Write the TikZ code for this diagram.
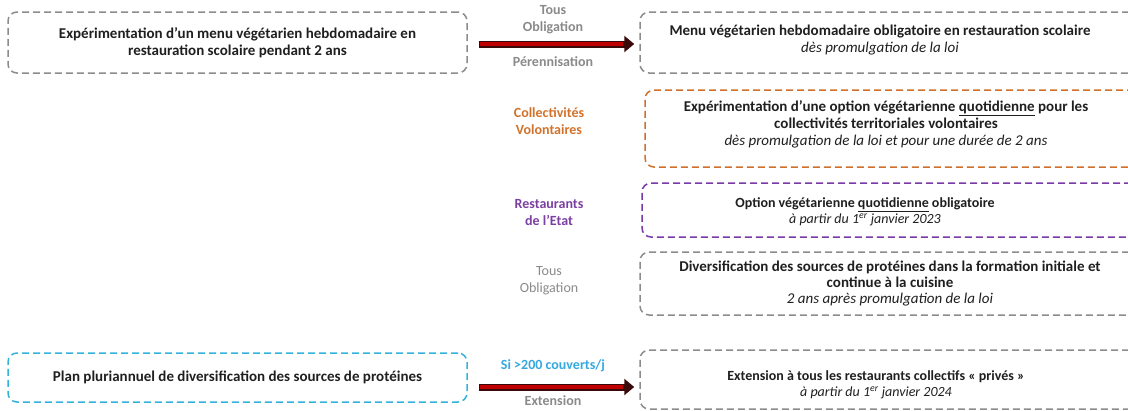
\documentclass[tikz,border=0pt]{standalone}
\usepackage{fontspec}
\setmainfont{Carlito}
\usetikzlibrary{positioning,arrows.meta}
\definecolor{greyline}{HTML}{8C8C8C}
\definecolor{greytext}{HTML}{8A8A8A}
\definecolor{orangeline}{HTML}{D0702E}
\definecolor{orangetext}{HTML}{D2722A}
\definecolor{purpleline}{HTML}{7A3AA6}
\definecolor{purpletext}{HTML}{7B3FA2}
\definecolor{cyanline}{HTML}{35B2DC}
\definecolor{cyantext}{HTML}{34A8DF}
\definecolor{arrowred}{HTML}{C00000}
\definecolor{arrowdark}{HTML}{3A0A0A}
\newcommand{\when}{\mdseries\itshape}
\tikzset{
  box/.style={draw=#1,dash pattern=on 7pt off 4pt,line width=1.5pt,
    rounded corners=9pt,inner sep=0pt},
  txt/.style={align=center,text=black!88,font=\bfseries\fontsize{15}{17}\selectfont},
  small/.style={font=\bfseries\fontsize{14}{16}\selectfont},
  tag/.style={align=center,text=#1,font=\bfseries\fontsize{14}{17}\selectfont},
  arrowout/.style={draw=arrowdark,line width=7pt,
    -{Triangle[length=10pt,width=16pt]},shorten <=11pt,shorten >=5pt},
  arrowin/.style={draw=arrowred,line width=4pt,shorten <=12.5pt,shorten >=16pt}
}

\begin{document}
\begin{tikzpicture}[x=1pt,y=-1pt]
\useasboundingbox (0,0) rectangle (1128,410);
\clip (0,0) rectangle (1128,410);
% left column
\node[box=greyline,minimum width=459pt,minimum height=61pt] (b1) at (237.5,42.5) {};
\node[txt] (t1) at (b1) {Expérimentation d’un menu végétarien hebdomadaire en\\restauration scolaire pendant 2 ans};
\node[box=cyanline,minimum width=459pt,minimum height=49pt] (b6) at (237.5,377.5) {};
\node[txt] (t6) at (b6) {Plan pluriannuel de diversification des sources de protéines};
% right column
\node[box=greyline,minimum width=520pt,minimum height=61pt] (b2) at (900,42.5) {};
\node[txt] (t2) at (880,40.5) {Menu végétarien hebdomadaire obligatoire en restauration scolaire\\\when dès promulgation de la loi};
\node[box=orangeline,minimum width=520pt,minimum height=77pt] (b3) at (905,128.5) {};
\node[txt] (t3) at (886,124) {Expérimentation d’une option végétarienne \underline{quotidienne} pour les\\collectivités territoriales volontaires\\\when dès promulgation de la loi et pour une durée de 2 ans};
\node[box=purpleline,minimum width=520pt,minimum height=54pt] (b4) at (902,210) {};
\node[txt,small] (t4) at (865,212) {Option végétarienne \underline{quotidienne} obligatoire\\\when à partir du 1\textsuperscript{er} janvier 2023};
\node[box=greyline,minimum width=520pt,minimum height=63pt] (b5) at (900,283.5) {};
\node[txt,font=\bfseries\fontsize{15}{16}\selectfont] (t5) at (890,284) {Diversification des sources de protéines dans la formation initiale et\\continue à la cuisine\\\when 2 ans après promulgation de la loi};
\node[box=greyline,minimum width=520pt,minimum height=59pt] (b7) at (900,379.5) {};
\node[txt,small] (t7) at (876,385) {Extension à tous les restaurants collectifs « privés »\\\when à partir du 1\textsuperscript{er} janvier 2024};
% arrows
\draw[arrowout] ([yshift=-1.5pt]b1.east) -- ([yshift=-1.5pt]b2.west);
\draw[arrowin] ([yshift=-1.5pt]b1.east) -- ([yshift=-1.5pt]b2.west);
\draw[arrowout] ([yshift=-9.5pt]b6.east) -- ([yshift=-7.5pt]b7.west);
\draw[arrowin] ([yshift=-9.5pt]b6.east) -- ([yshift=-7.5pt]b7.west);
% labels
\node[tag=greytext] (l1) at (553,19.5) {Tous\\Obligation};
\node[tag=greytext] (l2) at (553,62) {Pérennisation};
\node[tag=orangetext] (l3) at (549,121) {Collectivités\\Volontaires};
\node[tag=purpletext] (l4) at (549,212.5) {Restaurants\\de l’Etat};
\node[tag=greytext,font=\fontsize{14}{17}\selectfont] (l5) at (549,281) {Tous\\Obligation};
\node[tag=cyantext] (l6) at (553,366) {Si >200 couverts/j};
\node[tag=greytext] (l7) at (553,400.5) {Extension};
\end{tikzpicture}
\end{document}
